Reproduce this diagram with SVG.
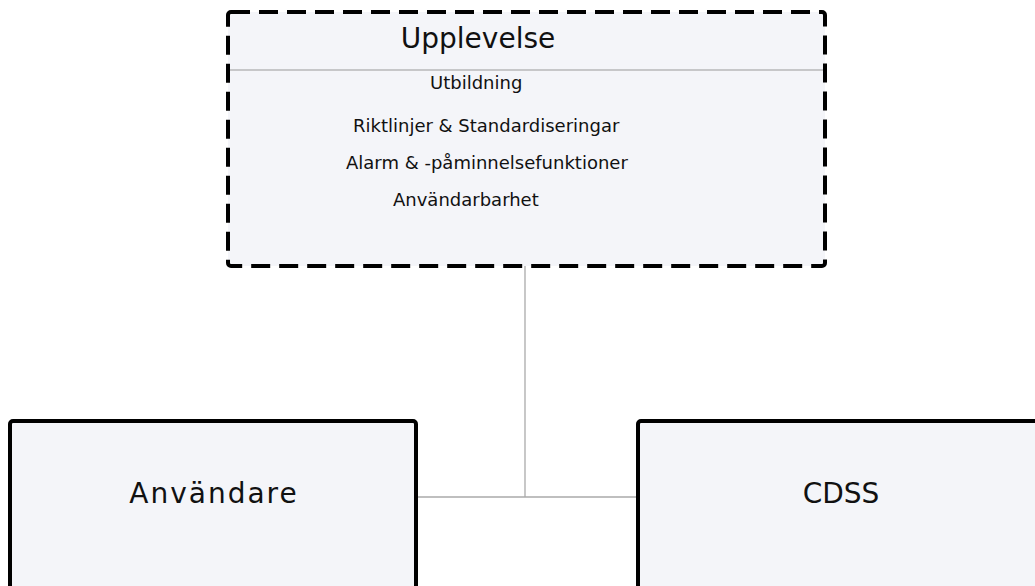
<svg xmlns="http://www.w3.org/2000/svg" width="1035" height="586" viewBox="0 0 1035 586">
<style>
.box{fill:#f4f5f9;stroke:#000;stroke-width:4}
.dash{fill:#f4f5f9;stroke:#000;stroke-width:4;stroke-dasharray:19 9}
.t{font-family:"DejaVu Sans","Liberation Sans",sans-serif;fill:#111}
.s{font-size:18px}
.conn{stroke:#aaa;stroke-width:1.3;fill:none}
</style>
<rect width="1035" height="586" fill="#fff"/>
<g id="connectors">
<line class="conn" x1="525" y1="266" x2="525" y2="497"/>
<line class="conn" x1="416" y1="497" x2="638" y2="497"/>
</g>
<g id="upplevelse">
<rect class="dash" x="228" y="12" width="597" height="254" rx="3"/>
<line x1="230" y1="70" x2="823" y2="70" stroke="#999" stroke-width="1"/>
<text class="t" x="478" y="48" font-size="28" text-anchor="middle">Upplevelse</text>
<text class="t s" x="430" y="89">Utbildning</text>
<text class="t s" x="353" y="132">Riktlinjer &amp; Standardiseringar</text>
<text class="t s" x="346" y="169">Alarm &amp; -påminnelsefunktioner</text>
<text class="t s" x="393" y="206">Användarbarhet</text>
</g>
<g id="anvandare">
<rect class="box" x="10" y="421" width="406" height="180" rx="3"/>
<text class="t" x="214" y="503" font-size="28" text-anchor="middle" letter-spacing="2">Användare</text>
</g>
<g id="cdss">
<rect class="box" x="638" y="421" width="420" height="180" rx="3"/>
<text class="t" x="841" y="503" font-size="28" text-anchor="middle">CDSS</text>
</g>
</svg>
